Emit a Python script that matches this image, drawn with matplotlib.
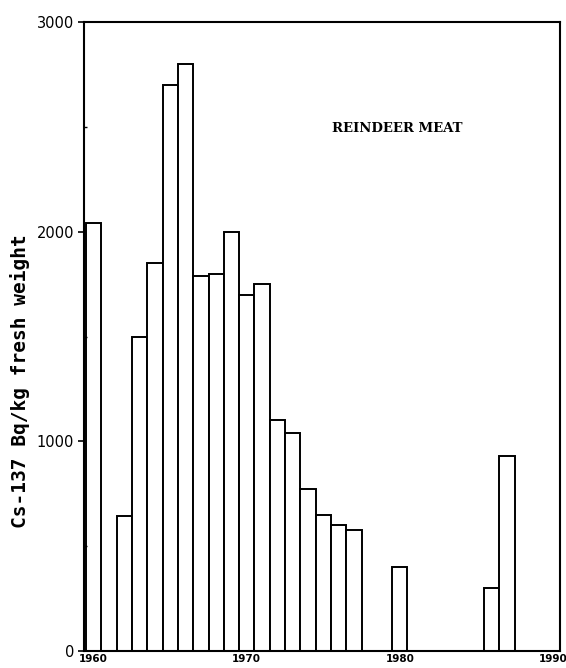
import matplotlib
matplotlib.use("Agg")
import matplotlib.pyplot as plt
from matplotlib.ticker import MultipleLocator

years = [1960, 1962, 1963, 1964, 1965, 1966, 1967, 1968, 1969, 1970,
         1971, 1972, 1973, 1974, 1975, 1976, 1977, 1980, 1986, 1987]
cs137 = [2040, 645, 1500, 1850, 2700, 2800, 1790, 1800, 2000, 1700,
         1750, 1100, 1040, 775, 650, 600, 575, 400, 300, 930]

x_ticks = [1960, 1970, 1980, 1990]
y_ticks = [0, 1000, 2000, 3000]

fig = plt.figure(figsize=(5.66, 6.68), dpi=100)
ax = fig.add_axes([0.148, 0.0254, 0.841, 0.9416])

ax.bar(years, cs137, width=1.0, color="white", edgecolor="black", linewidth=1.4)

ax.set_xlim(1959.35, 1990.45)
ax.set_ylim(0, 3000)
ax.set_xticks(x_ticks)
ax.set_yticks(y_ticks)
ax.yaxis.set_minor_locator(MultipleLocator(500))

for s in ax.spines.values():
    s.set_linewidth(1.5)

ax.tick_params(axis="x", length=0, pad=2)
ax.tick_params(axis="y", which="major", direction="out", length=4, width=1.2, pad=3)
ax.tick_params(axis="y", which="minor", direction="in", length=2, width=1)
for lab in ax.get_xticklabels():
    lab.set_fontsize(7.5)
    lab.set_fontweight("bold")
for lab in ax.get_yticklabels():
    lab.set_fontsize(10.5)

# y label sits a bit below the axis centre in the original
fig.text(0.036, 0.43, "Cs-137 Bq/kg fresh weight", rotation=90,
         fontsize=14, fontweight="bold", family="DejaVu Sans Mono",
         ha="center", va="center")

ax.text(1979.8, 2490, "REINDEER MEAT", fontsize=9.5, fontweight="bold",
        family="DejaVu Serif", ha="center", va="center")

fig.savefig("out.png", dpi=100)
